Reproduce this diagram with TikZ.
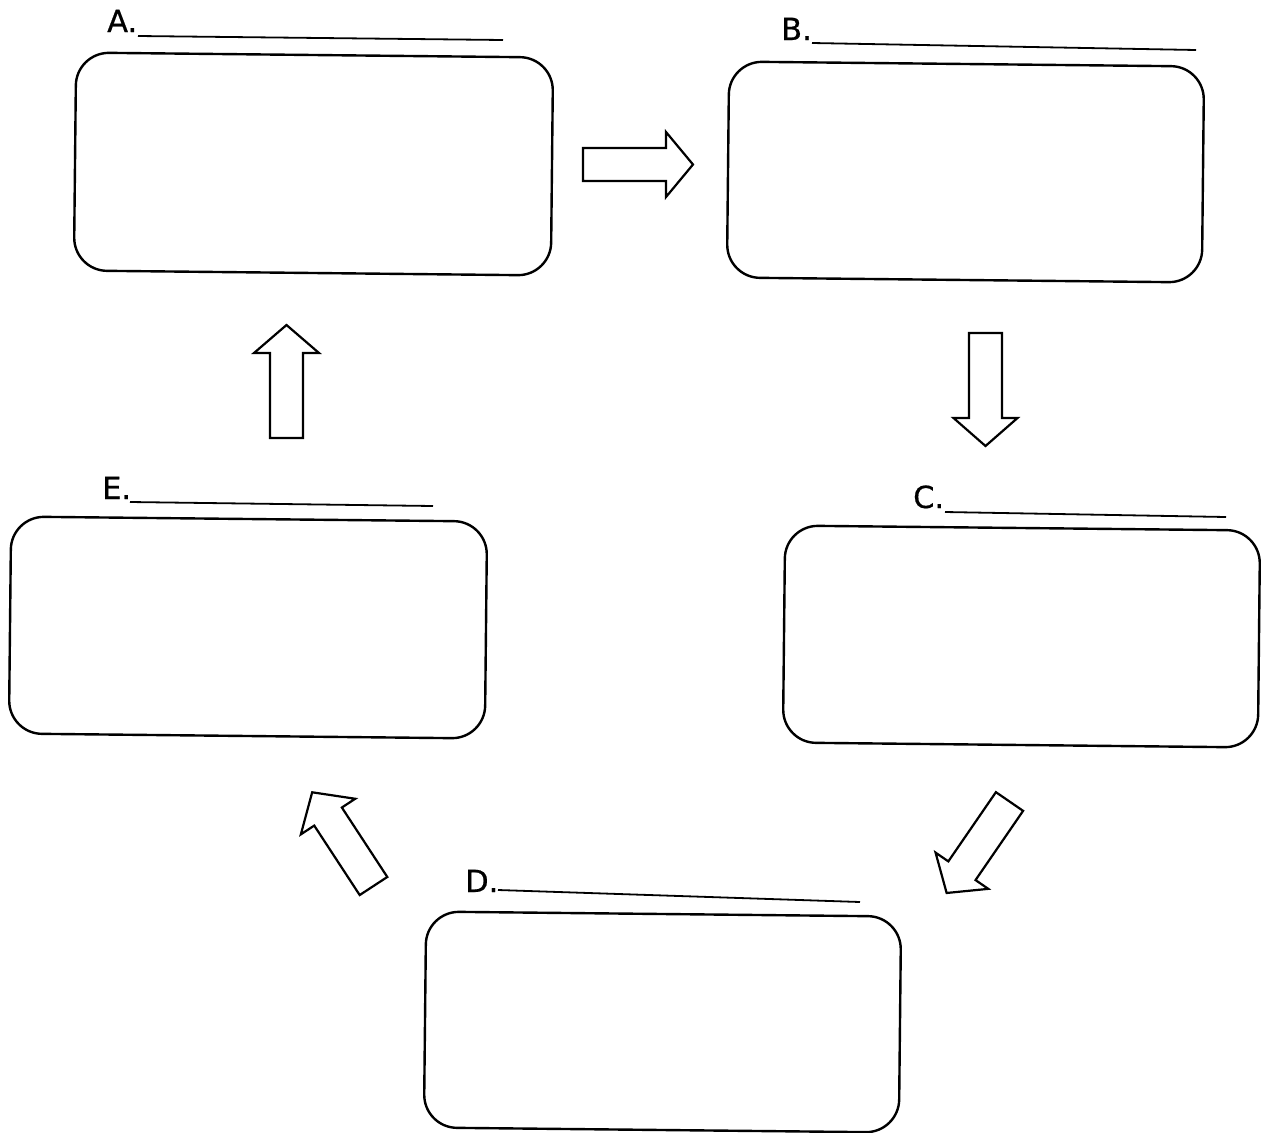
\documentclass[tikz,border=0pt]{standalone}
\usepackage{fontspec}
\setmainfont{DejaVu Sans}
\newfontfamily\labelfont[FakeBold=0.6]{DejaVu Sans}
\begin{document}
\begin{tikzpicture}[x=1pt,y=-1pt,
  stagebox/.style={draw, line width=2.4pt, rounded corners=33pt, inner sep=0pt,
    minimum width=475pt, minimum height=216pt, rotate=-0.6},
  stagelabel/.style={anchor=base west, inner sep=0pt, font=\labelfont\fontsize{30.5}{36}\selectfont},
  blankline/.style={line width=1.8pt},
  arrowline/.style={draw, line width=2.2pt, line join=miter, fill=white}]
\useasboundingbox[fill=white] (0,0) rectangle (1262,1133);

% boxes
\node[stagebox, minimum width=477pt, minimum height=218pt] (boxA) at (313.5,164) {};
\node[stagebox] (boxB) at (965.5,172) {};
\node[stagebox, minimum height=217pt] (boxC) at (1021.5,636.5) {};
\node[stagebox] (boxD) at (662.5,1022) {};
\node[stagebox, minimum width=476pt, minimum height=217pt] (boxE) at (248,627.5) {};

% labels with blank lines
\node[stagelabel] (labA) at (107,32) {A.};
\draw[blankline] (138,36) -- (503,40);
\node[stagelabel] (labB) at (781,40) {B.};
\draw[blankline] (812,43) -- (1196,50);
\node[stagelabel] (labC) at (913,508) {C.};
\draw[blankline] (945,512) -- (1226,517);
\node[stagelabel] (labD) at (465,892) {D.};
\draw[blankline] (498,890) -- (860,902);
\node[stagelabel] (labE) at (102,499) {E.};
\draw[blankline] (130,502) -- (433,506);

% block arrows: start x, start y, angle, shaft length, tip length, head half width
\newcommand\blkarrow[6]{%
  \draw[arrowline, shift={(#1,#2)}, rotate=#3]
    (0,-16.5) -- (#4,-16.5) -- (#4,-#6) -- (#5,0) -- (#4,#6) -- (#4,16.5) -- (0,16.5) -- cycle;}
\blkarrow{583}{164.5}{0}{83}{110}{32.5}
\blkarrow{985.5}{333}{-90}{85}{113}{32}
\blkarrow{1009.5}{801.5}{235.5}{84}{111}{32}
\blkarrow{373.5}{886}{123.2}{83}{112}{32.5}
\blkarrow{286.5}{438}{90}{85}{113}{32.5}
\end{tikzpicture}
\end{document}
